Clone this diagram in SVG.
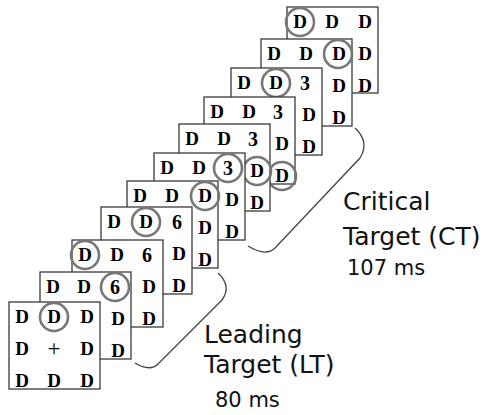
<svg xmlns="http://www.w3.org/2000/svg" width="487" height="415" viewBox="0 0 487 415">
<style>
.fr{fill:#fff;stroke:#3a3a3a;stroke-width:1.3}
.d{font-family:"Liberation Serif",serif;font-weight:bold;font-size:19px;text-anchor:middle;fill:#000}
.n{font-family:"Liberation Serif",serif;font-weight:bold;font-size:20px;text-anchor:middle;fill:#000}
.p{font-family:"Liberation Serif",serif;font-size:23px;text-anchor:middle;fill:#000}
.c{fill:none;stroke:#777;stroke-width:2.6}
.br{fill:none;stroke:#444;stroke-width:1.3}
.lb{font-family:"DejaVu Sans",sans-serif;font-size:25px;fill:#111}
.ms{font-family:"DejaVu Sans",sans-serif;font-size:21px;fill:#111}
</style>
<rect width="487" height="415" fill="#fff"/>

<g id="frame11" transform="translate(287,7)">
<rect class="fr" width="91" height="86"/>
<text class="d" x="13" y="21">D</text><text class="d" x="45" y="21">D</text><text class="d" x="78" y="21">D</text>
<text class="d" x="78" y="53">D</text><text class="d" x="78" y="85">D</text>
<circle class="c" cx="13" cy="15" r="14"/>
</g>
<g id="frame10" transform="translate(261,39)">
<rect class="fr" width="91" height="87"/>
<text class="d" x="13" y="21">D</text><text class="d" x="45" y="21">D</text><text class="d" x="78" y="21">D</text>
<text class="d" x="78" y="53">D</text><text class="d" x="78" y="85">D</text>
<circle class="c" cx="77" cy="15" r="14"/>
</g>
<g id="frame9" transform="translate(231,68)">
<rect class="fr" width="91" height="87"/>
<text class="d" x="13" y="21">D</text><text class="d" x="45" y="21">D</text><text class="n" x="74" y="22">3</text>
<text class="d" x="78" y="53">D</text><text class="d" x="78" y="85">D</text>
<circle class="c" cx="45" cy="15" r="14"/>
</g>
<g id="frame8" transform="translate(204,97)">
<rect class="fr" width="91" height="87"/>
<text class="d" x="13" y="21">D</text><text class="d" x="45" y="21">D</text><text class="n" x="74" y="22">3</text>
<text class="d" x="78" y="53">D</text><text class="d" x="78" y="85">D</text>
<circle class="c" cx="78" cy="79" r="14"/>
</g>
<g id="frame7" transform="translate(179,124)">
<rect class="fr" width="91" height="87"/>
<text class="d" x="13" y="21">D</text><text class="d" x="45" y="21">D</text><text class="n" x="74" y="22">3</text>
<text class="d" x="78" y="53">D</text><text class="d" x="78" y="85">D</text>
<circle class="c" cx="78" cy="47" r="14"/>
</g>
<g id="frame6" transform="translate(154,153)">
<rect class="fr" width="91" height="87"/>
<text class="d" x="13" y="21">D</text><text class="d" x="45" y="21">D</text><text class="n" x="74" y="22">3</text>
<text class="d" x="78" y="53">D</text><text class="d" x="78" y="85">D</text>
<circle class="c" cx="74" cy="15" r="14"/>
</g>
<g id="frame5" transform="translate(127,181)">
<rect class="fr" width="91" height="87"/>
<text class="d" x="13" y="21">D</text><text class="d" x="45" y="21">D</text><text class="d" x="78" y="21">D</text>
<text class="d" x="78" y="53">D</text><text class="d" x="78" y="85">D</text>
<circle class="c" cx="78" cy="15" r="14"/>
</g>
<g id="frame4" transform="translate(101,207)">
<rect class="fr" width="91" height="87"/>
<text class="d" x="13" y="21">D</text><text class="d" x="45" y="21">D</text><text class="n" x="76" y="22">6</text>
<text class="d" x="78" y="53">D</text><text class="d" x="78" y="85">D</text>
<circle class="c" cx="45" cy="15" r="14"/>
</g>
<g id="frame3" transform="translate(72,240)">
<rect class="fr" width="91" height="87"/>
<text class="d" x="13" y="21">D</text><text class="d" x="45" y="21">D</text><text class="n" x="75" y="22">6</text>
<text class="d" x="77" y="53">D</text><text class="d" x="77" y="85">D</text>
<circle class="c" cx="13" cy="15" r="14"/>
</g>
<g id="frame2" transform="translate(40,272)">
<rect class="fr" width="91" height="87"/>
<text class="d" x="13" y="21">D</text><text class="d" x="44" y="21">D</text><text class="n" x="75" y="22">6</text>
<text class="d" x="78" y="53">D</text><text class="d" x="78" y="85">D</text>
<circle class="c" cx="75" cy="15" r="14"/>
</g>
<g id="frame1" transform="translate(9,302)">
<rect class="fr" width="91" height="87"/>
<text class="d" x="13" y="21">D</text><text class="d" x="45" y="21">D</text><text class="d" x="78" y="21">D</text>
<text class="d" x="13" y="53">D</text><text class="p" x="45" y="54">+</text><text class="d" x="78" y="53">D</text>
<text class="d" x="13" y="85">D</text><text class="d" x="45" y="85">D</text><text class="d" x="78" y="85">D</text>
<circle class="c" cx="45" cy="15" r="14"/>
</g>

<g id="connectors">
<path class="br" d="M355 128 Q370 142 360 158 L275 248 Q266 257 248 246"/>
<path class="br" d="M218 273 Q232 286 222 300 L158 364 Q150 372 135 363"/>
</g>

<g id="label-ct">
<text class="lb" x="343" y="210">Critical</text>
<text class="lb" x="343" y="245">Target (CT)</text>
<text class="ms" x="347" y="275">107 ms</text>
</g>
<g id="label-lt">
<text class="lb" x="204" y="343">Leading</text>
<text class="lb" x="204" y="373">Target (LT)</text>
<text class="ms" x="215" y="407">80 ms</text>
</g>
</svg>
